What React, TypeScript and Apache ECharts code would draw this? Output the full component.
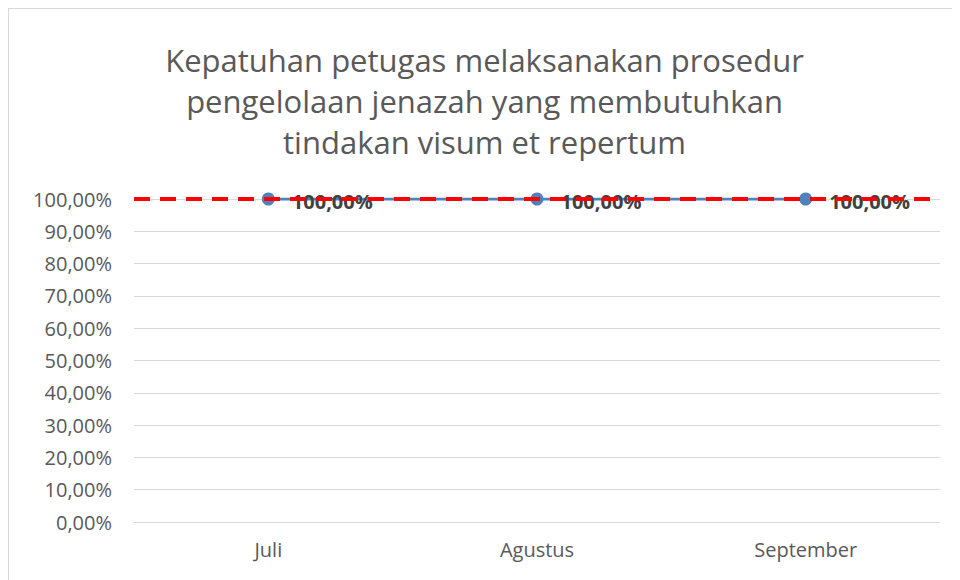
import React, { useEffect, useRef } from "react";
import * as echarts from "echarts";

const categories = ["Juli", "Agustus", "September"];
const values = [100, 100, 100];
const target = 100;
const yTicks = [0, 10, 20, 30, 40, 50, 60, 70, 80, 90, 100];

const fmt = (v: number) => v.toFixed(2).replace(".", ",") + "%";

export default function App() {
  const ref = useRef<HTMLDivElement>(null);
  useEffect(() => {
    if (!ref.current) return;
    const chart = echarts.init(ref.current, null, { renderer: "svg" });
    chart.setOption({
      animation: false,
      title: {
        text: "Kepatuhan petugas melaksanakan prosedur\npengelolaan jenazah yang membutuhkan\ntindakan visum et repertum",
        left: "center",
        top: 25,
        textStyle: {
          fontFamily: "Open Sans",
          fontSize: 31,
          fontWeight: "normal",
          color: "#595959",
          lineHeight: 41,
        },
      },
      grid: { left: 125, right: 20, top: 190, bottom: 58 },
      xAxis: {
        type: "category",
        data: categories,
        axisLine: { show: true, lineStyle: { color: "#d9d9d9" } },
        axisTick: { show: false },
        axisLabel: { color: "#595959", fontSize: 20, fontFamily: "Open Sans", margin: 17 },
      },
      yAxis: {
        type: "value",
        min: yTicks[0],
        max: yTicks[yTicks.length - 1],
        interval: 10,
        axisLine: { show: false },
        axisTick: { show: false },
        splitLine: { lineStyle: { color: "#d9d9d9", width: 1 } },
        axisLabel: {
          color: "#595959",
          fontSize: 20,
          fontFamily: "Open Sans",
          margin: 22,
          formatter: (v: number) => fmt(v),
        },
      },
      series: [
        {
          type: "line",
          data: values,
          symbol: "circle",
          symbolSize: 13,
          lineStyle: { color: "#4f81bd", width: 3 },
          itemStyle: { color: "#4f81bd" },
          label: {
            show: true,
            position: "right",
            distance: 17,
            offset: [0, 2],
            fontSize: 20,
            fontWeight: "bold",
            fontFamily: "Open Sans",
            color: "#404040",
            formatter: (p: any) => fmt(p.value),
          },
          markLine: {
            symbol: "none",
            silent: true,
            label: { show: false },
            lineStyle: { color: "#ff0000", type: [16, 10], width: 4 },
            data: [{ yAxis: target }],
          },
          z: 3,
        },
      ],
    });
    return () => chart.dispose();
  }, []);
  return (
    <div
      ref={ref}
      style={{
        width: 952,
        height: 572,
        borderLeft: "1px solid #d9d9d9",
        borderTop: "1px solid #d9d9d9",
        boxSizing: "border-box",
        background: "#fff",
      }}
    />
  );
}
